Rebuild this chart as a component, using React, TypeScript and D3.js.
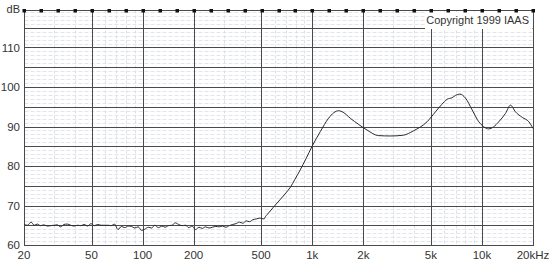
import React from "react";
import * as d3 from "d3";

const freqs: number[] = [
  20, 21, 22, 23, 24, 25, 26.2, 27.4, 28.7, 30, 31.4, 32.9, 34.4, 36, 37.7, 39.5, 41.3, 43.3, 45.3, 47.4,
  49.6, 52, 54.4, 57, 59.6, 62.4, 65.3, 68.4, 71.6, 75, 78.5, 82.2, 86, 90, 94.2, 98.6, 103, 108, 113, 118,
  124, 130, 136, 142, 149, 156, 163, 171, 179, 187, 196, 205, 215, 225, 235, 246, 258, 270, 283, 296,
  310, 324, 340, 355, 372, 390, 408, 427, 447, 468, 490, 505, 520, 530, 545,
  591, 650, 700, 745, 790, 849, 920, 995, 1115, 1248, 1340, 1429, 1520, 1675, 1880, 2104, 2451, 2900, 3444, 3945,
  4751, 5319, 5800, 6237, 6677, 7000, 7406, 7998, 8758, 9580, 10200, 10970, 11700, 12570, 13760,
  14740, 15770, 17300, 18900, 20000,
];

const levels: number[] = [
  65.2, 65.0, 65.8, 65.0, 65.3, 64.9, 65.1, 64.8, 64.9, 65.0, 65.1, 64.6, 65.2, 65.3, 65.0, 64.8, 65.0, 64.9, 65.2, 64.8,
  65.4, 64.9, 65.2, 65.0, 65.0, 65.0, 64.9, 65.3, 63.9, 64.7, 64.4, 64.8, 64.7, 64.3, 64.6, 63.7, 64.0, 64.5, 64.3, 65.0,
  64.4, 64.8, 64.5, 64.9, 65.0, 65.6, 65.2, 64.9, 65.0, 64.4, 64.8, 63.9, 64.5, 64.2, 64.6, 64.3, 64.5, 64.7, 64.6, 64.8,
  64.5, 64.9, 65.2, 65.4, 65.8, 65.5, 66.1, 65.9, 66.4, 66.6, 66.8, 66.7, 66.6, 67.2, 67.8,
  69.6, 71.6, 73.2, 74.7, 76.6, 79.0, 81.9, 84.9, 88.7, 92.1, 93.5, 94.0, 93.6, 92.1, 90.5, 89.1, 87.7, 87.6, 87.8, 88.9,
  91.2, 93.7, 95.6, 96.9, 97.3, 97.9, 98.2, 97.2, 94.2, 91.2, 90.0, 89.4, 89.9, 91.2, 93.3,
  95.4, 93.7, 92.3, 91.2, 89.5,
];

const xTickValues: number[] = [20, 50, 100, 200, 500, 1000, 2000, 5000, 10000, 20000];
const xTickLabels: string[] = ["20", "50", "100", "200", "500", "1k", "2k", "5k", "10k", "20kHz"];
const xMinorValues: number[] = [
  30, 40, 60, 70, 80, 90, 300, 400, 600, 700, 800, 900, 3000, 4000, 6000, 7000, 8000, 9000,
];
const yMajorValues: number[] = [65, 70, 75, 80, 85, 90, 95, 100, 105, 110, 115];
const yLabelValues: number[] = [60, 70, 80, 90, 100, 110];

export default function App() {
  const W = 550;
  const H = 263;
  const x = d3.scaleLog().domain([20, 20000]).range([24, 533]);
  const y = d3.scaleLinear().domain([60, 120]).range([245, 8]);
  const yTop = Math.round(y(119.6)) + 0.5;
  const yBot = Math.round(y(60)) + 0.5;
  const xL = Math.round(x(20)) + 0.5;
  const xR = Math.round(x(20000)) + 0.5;

  const minorY: number[] = d3.range(61, 120, 1).filter((v) => v % 5 !== 0);
  const markers: number[] = d3.range(0, 31).map((k) => 20 * Math.pow(10, k / 10));

  const pts = freqs.map((f, i) => [f, levels[i]] as [number, number]);
  const line = d3
    .line<[number, number]>()
    .x((d) => x(d[0]))
    .y((d) => y(d[1]))
    .curve(d3.curveMonotoneX);

  const font = "Liberation Sans, Arial, sans-serif";
  const grid = "#4a4a4a";
  const textCol = "#333";

  return (
    <svg
      width={W}
      height={H}
      style={{ position: "absolute", left: 0, top: 0, background: "#fff" }}
      fontFamily={font}
    >
      {minorY.map((v) => (
        <line
          key={"my" + v}
          x1={xL}
          x2={xR}
          y1={Math.round(y(v)) + 0.5}
          y2={Math.round(y(v)) + 0.5}
          stroke="#e2e5ec"
          strokeWidth={1}
          strokeDasharray="4,2"
        />
      ))}
      {xMinorValues.map((v) => (
        <line
          key={"mx" + v}
          x1={Math.round(x(v)) + 0.5}
          x2={Math.round(x(v)) + 0.5}
          y1={yTop}
          y2={yBot}
          stroke="#dcdfe6"
          strokeWidth={1}
          strokeDasharray="3,2"
        />
      ))}
      {yMajorValues.map((v) => (
        <line
          key={"y" + v}
          x1={xL}
          x2={xR}
          y1={Math.round(y(v)) + 0.5}
          y2={Math.round(y(v)) + 0.5}
          stroke={grid}
          strokeWidth={1}
        />
      ))}
      {xTickValues.map((v) => (
        <line
          key={"x" + v}
          x1={Math.round(x(v)) + 0.5}
          x2={Math.round(x(v)) + 0.5}
          y1={yTop}
          y2={yBot}
          stroke={grid}
          strokeWidth={1}
        />
      ))}
      <rect x={xL} y={yTop} width={xR - xL} height={yBot - yTop} fill="none" stroke={grid} strokeWidth={1} />
      <rect x={425} y={yTop + 1.5} width={xR - 425 - 1} height={17} fill="#fff" />
      <text x={529} y={24} textAnchor="end" fontSize={11} fill={textCol}>
        Copyright 1999 IAAS
      </text>
      {markers.map((f, i) => (
        <rect
          key={"m" + i}
          x={Math.round(x(f)) - 1.5}
          y={yTop - 1.5}
          width={3.5}
          height={3.5}
          fill="#111"
        />
      ))}
      <path d={line(pts) || ""} fill="none" stroke="#2a2a2a" strokeWidth={1} />
      {yLabelValues.map((v) => (
        <text key={"yl" + v} x={20} y={y(v) + 4} textAnchor="end" fontSize={11.5} fill={textCol}>
          {v}
        </text>
      ))}
      <text x={20} y={12.5} textAnchor="end" fontSize={11} fill={textCol}>
        dB
      </text>
      {xTickValues.map((v, i) => (
        <text key={"xl" + v} x={x(v)} y={259} textAnchor="middle" fontSize={11.5} fill={textCol}>
          {xTickLabels[i]}
        </text>
      ))}
    </svg>
  );
}
